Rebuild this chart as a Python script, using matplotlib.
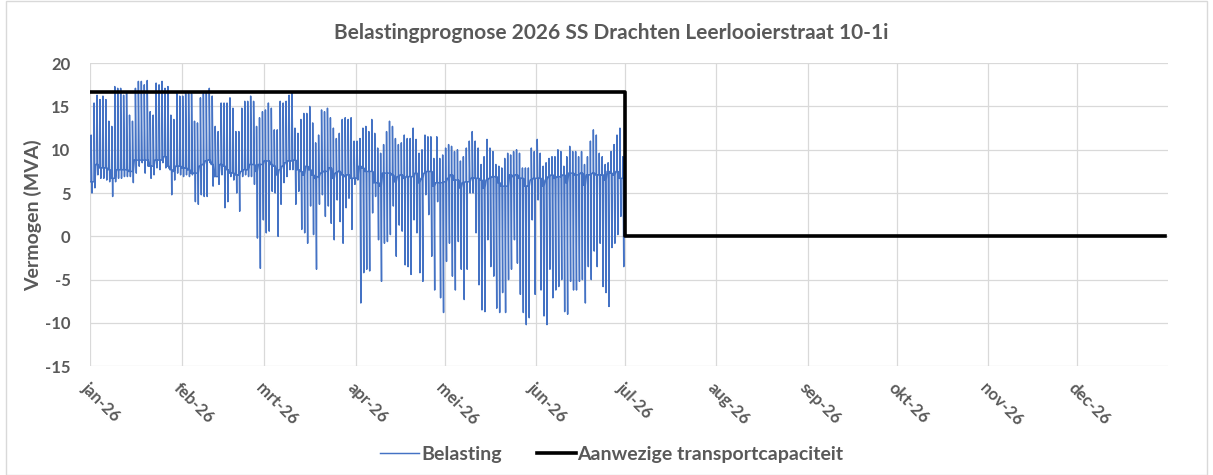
import numpy as np
import pandas as pd
import matplotlib
matplotlib.use('Agg')
import matplotlib.pyplot as plt

plt.rcParams['font.family'] = ['Lato', 'DejaVu Sans']
plt.rcParams['axes.unicode_minus'] = False

# dagelijkse max / min / nachtniveau (MVA)
jan_hoog = [11.7, 15.4, 16.3, 15.8, 16.2, 15.8, 13.3, 12.7, 17.3, 17.1, 17.1, 16.3, 16.7, 14.0, 13.3, 17.1,
            17.9, 17.9, 17.5, 18.0, 14.4, 14.0, 17.7, 17.5, 17.9, 17.1, 17.3, 14.0, 13.5, 16.5, 16.2]
jan_laag = [5.0, 5.6, 7.1, 6.7, 6.7, 6.5, 6.3, 4.6, 6.3, 6.7, 6.7, 6.9, 6.9, 6.9, 6.2, 7.3,
            8.1, 8.5, 7.3, 8.1, 6.7, 7.1, 7.9, 7.7, 8.5, 7.9, 7.9, 4.8, 6.5, 7.3, 7.1]
jan_basis = [6.3, 6.3, 8.3, 7.9, 7.9, 7.9, 7.7, 6.7, 6.7, 7.7, 7.7, 7.7, 7.7, 7.5, 7.5, 8.8,
             8.8, 8.8, 8.8, 8.8, 8.1, 8.1, 8.8, 8.8, 8.8, 9.2, 8.1, 7.7, 7.5, 8.1, 8.1]

feb_hoog = [16.2, 16.5, 16.5, 16.5, 13.3, 13.1, 16.0, 16.5, 16.7, 17.1, 16.2, 12.7, 12.1, 15.4,
            15.4, 15.4, 16.0, 14.8, 12.1, 12.1, 14.8, 15.6, 15.6, 16.2, 15.6, 12.7, 13.7, 14.4]
feb_laag = [6.9, 7.1, 6.9, 7.1, 4.0, 3.7, 4.8, 4.6, 4.6, 8.5, 5.8, 6.9, 6.0, 7.1,
            3.3, 4.0, 6.9, 6.5, 5.0, 2.9, 6.9, 7.1, 6.9, 6.9, 6.0, -0.2, -3.7, 1.9]
feb_basis = [7.9, 7.9, 7.7, 7.3, 7.3, 7.3, 8.1, 8.3, 8.7, 8.8, 8.3, 6.9, 6.9, 8.3,
             8.1, 7.7, 7.3, 7.3, 7.1, 7.1, 7.5, 7.7, 7.7, 8.3, 8.3, 7.5, 8.3, 8.3]

mrt_hoog = [14.6, 15.4, 14.8, 12.3, 12.3, 15.6, 15.4, 15.6, 16.3, 16.5, 12.5, 11.9, 13.5, 14.2, 14.2, 15.0,
            13.1, 10.8, 11.7, 14.6, 14.4, 14.8, 13.7, 12.5, 11.3, 11.9, 13.5, 13.7, 13.5, 13.7, 11.0]
mrt_laag = [0.4, 0.6, 5.2, 5.0, 0.0, 3.7, 6.2, 6.9, 7.7, 7.7, 3.7, 5.2, 0.8, 0.4, -0.8, 3.5,
            0.2, -3.8, 3.7, 4.8, 2.3, 3.5, 1.5, -0.4, 4.2, 1.7, -0.8, 3.3, 4.4, 0.8, 6.0]
mrt_basis = [8.7, 8.7, 8.3, 8.1, 7.1, 7.7, 8.1, 8.5, 8.7, 8.7, 8.8, 7.7, 7.5, 7.1, 8.1, 7.7,
             7.1, 6.7, 6.9, 7.3, 7.5, 7.5, 7.9, 6.7, 7.3, 7.5, 7.1, 6.9, 7.1, 6.7, 6.7]

apr_hoog = [11.0, 11.3, 12.5, 12.7, 12.1, 13.5, 11.9, 10.2, 9.6, 10.6, 12.1, 13.3, 12.7, 11.3, 10.6,
            10.8, 11.7, 11.3, 11.3, 12.5, 11.2, 9.6, 10.0, 11.7, 11.5, 11.5, 9.0, 11.5, 9.0, 9.4]
apr_laag = [6.5, -7.7, -4.2, -3.8, -4.0, 2.7, 4.6, -0.4, -5.2, -0.8, -0.6, 0.2, 3.5, -2.3, 1.3,
            0.6, -3.3, -3.5, -4.4, 1.9, 0.4, -4.2, -5.2, 4.8, 2.5, -2.3, -6.2, 4.0, -7.1, -8.8]
apr_basis = [6.7, 8.1, 7.9, 7.5, 7.5, 7.5, 6.2, 6.2, 5.8, 7.3, 7.3, 7.3, 7.1, 6.3, 6.9,
             7.1, 6.7, 6.9, 6.9, 6.9, 7.3, 6.2, 6.7, 7.3, 7.5, 7.5, 5.8, 6.2, 6.2, 6.2]

mei_hoog = [10.2, 10.6, 10.4, 9.8, 10.0, 8.7, 9.2, 10.2, 11.0, 12.1, 11.0, 10.2, 8.3, 9.2, 11.2, 10.2,
            9.8, 8.3, 8.1, 7.9, 9.0, 9.6, 9.4, 9.8, 10.0, 9.6, 7.9, 7.9, 7.9, 10.2, 9.8]
mei_laag = [-2.9, -0.8, -4.6, -6.2, -0.6, -3.8, -7.3, -3.8, 5.0, 5.0, 0.4, -5.6, -8.5, -8.7, -0.4, -3.5,
            -4.6, -8.3, -8.8, -6.5, -8.8, -5.0, -3.8, -0.4, -3.1, -6.7, -8.8, -10.2, -9.4, 1.9, -6.7]
mei_basis = [6.3, 6.7, 7.1, 6.5, 6.5, 5.6, 6.2, 6.3, 6.3, 6.7, 6.7, 6.7, 6.5, 5.6, 6.5, 6.7,
             6.9, 6.9, 6.2, 5.8, 5.8, 5.8, 7.1, 6.9, 7.1, 6.7, 6.7, 5.8, 5.8, 6.5, 6.7]

jun_hoog = [11.2, 9.6, 8.1, 8.5, 9.0, 9.2, 9.2, 10.0, 9.8, 8.1, 9.2, 10.4, 9.8, 9.8, 9.2,
            9.8, 8.3, 9.2, 11.0, 12.3, 11.7, 9.6, 9.2, 8.3, 8.5, 9.8, 10.6, 11.7, 12.5, 9.2]
jun_laag = [4.2, -6.2, -9.2, -10.2, -3.8, -7.1, -6.2, -5.8, -5.0, -8.7, -9.0, -5.2, -6.2, -6.2, -5.2,
            -5.0, -7.7, -3.5, -5.0, -1.7, -3.5, -0.8, -5.8, -6.5, -8.1, -1.3, -0.8, 0.2, 2.3, -3.5]
jun_basis = [6.7, 6.7, 5.8, 6.5, 6.9, 7.1, 6.7, 6.9, 6.9, 7.1, 6.2, 7.3, 7.3, 7.1, 7.1,
             7.3, 5.9, 7.1, 7.1, 7.3, 7.1, 7.1, 7.1, 6.5, 7.5, 7.3, 7.1, 7.5, 6.7, 6.7]

# transportcapaciteit (stap op 1 juli)
cap_datums = ['2026-01-01', '2026-07-01', '2026-12-31']
cap_waarden = [16.7, 0.0, 0.0]

maand_labels = ['jan-26', 'feb-26', 'mrt-26', 'apr-26', 'mei-26', 'jun-26',
                'jul-26', 'aug-26', 'sep-26', 'okt-26', 'nov-26', 'dec-26']

hoog = jan_hoog + feb_hoog + mrt_hoog + apr_hoog + mei_hoog + jun_hoog
laag = jan_laag + feb_laag + mrt_laag + apr_laag + mei_laag + jun_laag
basis = jan_basis + feb_basis + mrt_basis + apr_basis + mei_basis + jun_basis
dagen = pd.date_range('2026-01-01', '2026-06-30', freq='D')

# per dag: nacht vlak, dan piek en dal kort na elkaar
tijden, waarden = [], []
for d, b, h, l in zip(dagen, basis, hoog, laag):
    tijden += [d, d + pd.Timedelta(hours=8), d + pd.Timedelta(hours=9),
               d + pd.Timedelta(hours=16), d + pd.Timedelta(hours=17)]
    waarden += [b, b, h, l, b]

fig = plt.figure(figsize=(12.13, 4.75), dpi=100)
ax = fig.add_axes([0.0742, 0.229, 0.889, 0.638])

grijs = '#595959'
ax.plot(tijden, waarden, color='#4472C4', linewidth=1.05, label='Belasting')
ax.plot(pd.to_datetime(cap_datums), cap_waarden, color='black', linewidth=2.6,
        drawstyle='steps-post', label='Aanwezige transportcapaciteit')

ax.set_xlim(pd.Timestamp('2026-01-01'), pd.Timestamp('2027-01-01'))
ax.set_ylim(-15, 20)
ax.set_yticks(np.arange(-15, 21, 5))
maanden = pd.date_range('2026-01-01', '2026-12-01', freq='MS')
ax.set_xticks(maanden)
ax.set_xticklabels(maand_labels, rotation=-45, ha='left', va='top', rotation_mode='anchor')
ax.grid(True, color='#D9D9D9', linewidth=0.9)
ax.set_axisbelow(True)
for s in ax.spines.values():
    s.set_visible(False)
ax.tick_params(axis='y', length=0, labelsize=12, labelcolor=grijs, pad=14)
ax.tick_params(axis='x', length=0, labelsize=12, labelcolor=grijs, pad=10)
for t in ax.get_xticklabels() + ax.get_yticklabels():
    t.set_fontweight('bold')

ax.set_ylabel('Vermogen (MVA)', fontsize=14, fontweight='bold', color=grijs, labelpad=2)
fig.text(0.504, 0.93, 'Belastingprognose 2026 SS Drachten Leerlooierstraat 10-1i', fontsize=15,
         fontweight='bold', color=grijs, ha='center', va='center')

leg = ax.legend(loc='center', bbox_to_anchor=(0.484, -0.29), ncol=2, frameon=False,
                prop={'size': 14, 'weight': 'bold'}, handlelength=2.0, handletextpad=0.1,
                columnspacing=1.8)
for t in leg.get_texts():
    t.set_color(grijs)

fig.patches.append(plt.Rectangle((0.005, 0.0), 0.99, 0.998, transform=fig.transFigure,
                                 fill=False, edgecolor='#D9D9D9', linewidth=1))

fig.savefig('out.png', dpi=100)
